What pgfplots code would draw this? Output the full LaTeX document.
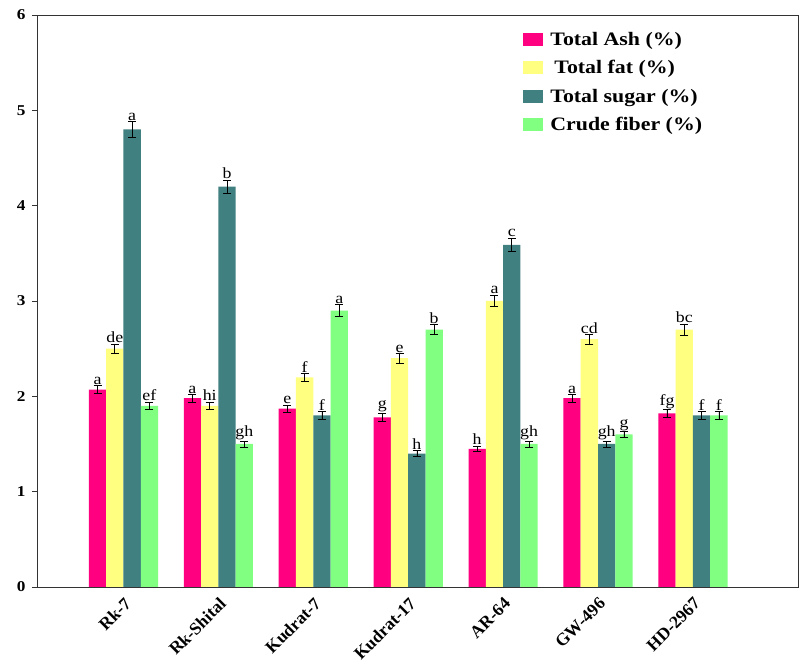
\documentclass[border=0pt]{standalone}
\usepackage{fontspec}
\setmainfont{Liberation Serif}[FakeStretch=1.15]
\newfontfamily\plainserif{Liberation Serif}
\usepackage{pgfplots}
\usepackage{pgfplotstable}
\pgfplotsset{compat=1.18}

\definecolor{ashc}{HTML}{FF0080}
\definecolor{fatc}{HTML}{FFFF80}
\definecolor{sugarc}{HTML}{408080}
\definecolor{fiberc}{HTML}{80FF80}

% x = variety index, y = mean, err = standard error, lab = significance group
\pgfplotstableread{
x y err lab
0 2.07 0.04 a
1 1.98 0.04 a
2 1.87 0.04 e
3 1.78 0.04 g
4 1.45 0.03 h
5 1.98 0.04 a
6 1.82 0.04 fg
}\ashdata

\pgfplotstableread{
x y err lab
0 2.50 0.05 de
1 1.90 0.04 hi
2 2.20 0.04 f
3 2.40 0.05 e
4 3.00 0.06 a
5 2.60 0.05 cd
6 2.70 0.06 bc
}\fatdata

\pgfplotstableread{
x y err lab
0 4.80 0.08 a
1 4.20 0.07 b
2 1.80 0.04 f
3 1.40 0.03 h
4 3.59 0.07 c
5 1.50 0.03 gh
6 1.80 0.04 f
}\sugardata

\pgfplotstableread{
x y err lab
0 1.90 0.04 ef
1 1.50 0.03 gh
2 2.90 0.06 a
3 2.70 0.05 b
4 1.50 0.03 gh
5 1.60 0.03 g
6 1.80 0.04 f
}\fiberdata

\begin{document}
\begin{tikzpicture}[x=1pt,y=1pt]
\useasboundingbox (0,0) rectangle (802,663);
\begin{axis}[
  at={(37pt,76pt)}, anchor=south west,
  scale only axis, width=761pt, height=572pt,
  xmin=-0.911, xmax=7.107, ymin=0, ymax=6,
  ytick={0,1,2,3,4,5,6},
  xtick={0,1,2,3,4,5,6},
  xticklabels={Rk-7,Rk-Shital,Kudrat-7,Kudrat-17,AR-64,GW-496,HD-2967},
  x tick label style={rotate=45, anchor=north east, inner sep=0pt,
    xshift=-3pt, yshift=-3pt,
    font=\plainserif\fontsize{17.5}{17.5}\selectfont\bfseries},
  y tick label style={font=\fontsize{15}{15}\selectfont\bfseries, xshift=-3pt},
  /pgf/number format/assume math mode=true,
  tick align=outside,
  ytick pos=left,
  xtick style={draw=none},
  ytick style={black!80, line width=0.8pt},
  major tick length=5pt,
  axis line style={black!80, line width=0.8pt},
  ybar=0pt, bar width=17.3pt,
  legend style={at={(0.635,0.977)}, anchor=north west, draw=none, fill=none,
    font=\fontsize{19}{19}\selectfont\bfseries, row sep=9.5pt,
    /tikz/every odd column/.append style={column sep=5pt}},
  legend cell align=left,
  legend image code/.code={\fill[#1] (0pt,-6.5pt) rectangle (20pt,6.5pt);},
  error bars/y dir=both, error bars/y explicit,
  error bars/error bar style={black, line width=0.7pt},
  error bars/error mark options={rotate=90, mark size=4pt, black, line width=0.7pt},
  nodes near coords, point meta=explicit symbolic,
  visualization depends on={95.3*\thisrow{err} \as \errpt},
  nodes near coords style={anchor=south, inner sep=1pt, yshift=\errpt pt,
    font=\fontsize{15.5}{15.5}\selectfont, text=black},
]
\addplot[fill=ashc, draw=none] table[x=x, y=y, y error=err, meta=lab] {\ashdata};
\addlegendentry{Total Ash (\%)}
\addplot[fill=fatc, draw=none] table[x=x, y=y, y error=err, meta=lab] {\fatdata};
\addlegendentry{\hspace{4pt}Total fat (\%)}
\addplot[fill=sugarc, draw=none] table[x=x, y=y, y error=err, meta=lab] {\sugardata};
\addlegendentry{Total sugar (\%)}
\addplot[fill=fiberc, draw=none] table[x=x, y=y, y error=err, meta=lab] {\fiberdata};
\addlegendentry{Crude fiber (\%)}
\end{axis}
\end{tikzpicture}
\end{document}
